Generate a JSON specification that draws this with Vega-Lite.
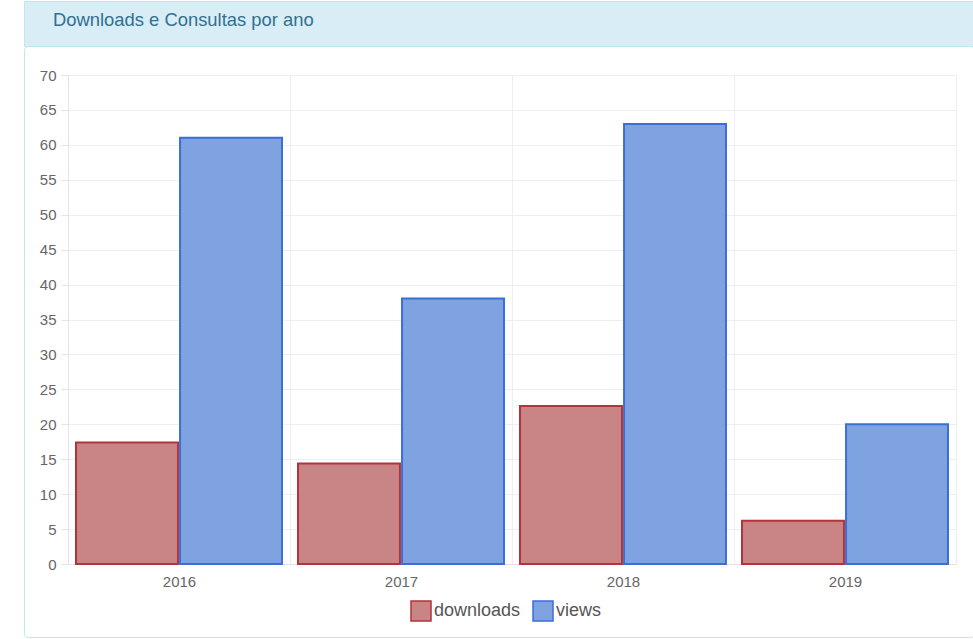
{
  "$schema": "https://vega.github.io/schema/vega-lite/v6.json",
  "background": "white",
  "padding": {"left": 23, "top": 0, "right": 0, "bottom": 0},
  "autosize": {"type": "pad"},
  "columns": 1,
  "align": "none",
  "bounds": "flush",
  "spacing": 0,
  "config": {
    "font": "Liberation Sans",
    "view": {"stroke": null}
  },
  "concat": [
    {
      "width": 950,
      "height": 45,
      "view": {"fill": "#d9edf7", "stroke": "#bce8f1", "strokeWidth": 1},
      "data": {"values": []},
      "mark": "point",
      "title": {
        "text": "Downloads e Consultas por ano",
        "anchor": "start",
        "frame": "group",
        "orient": "top",
        "offset": -43,
        "dx": 29,
        "baseline": "alphabetic",
        "fontSize": 18.4,
        "fontWeight": "normal",
        "font": "Liberation Sans",
        "color": "#31708f"
      }
    },
    {
      "width": 950,
      "height": 591,
      "view": {"fill": "white", "stroke": "#bce8f1", "strokeWidth": 1, "cornerRadius": 4},
      "data": {
        "values": [
          {"year": "2016", "series": "downloads", "value": 17.4},
          {"year": "2016", "series": "views", "value": 61},
          {"year": "2017", "series": "downloads", "value": 14.4},
          {"year": "2017", "series": "views", "value": 38},
          {"year": "2018", "series": "downloads", "value": 22.6},
          {"year": "2018", "series": "views", "value": 63},
          {"year": "2019", "series": "downloads", "value": 6.2},
          {"year": "2019", "series": "views", "value": 20}
        ]
      },
      "mark": {"type": "bar", "strokeWidth": 2, "fillOpacity": 1},
      "encoding": {
        "x": {
          "field": "year",
          "type": "nominal",
          "scale": {"paddingInner": 0, "paddingOuter": 0, "range": [44, 932]},
          "axis": {
            "title": null,
            "labelAngle": 0,
            "offset": -73,
            "tickBand": "extent",
            "grid": false,
            "domainColor": "#e3e3e3",
            "tickColor": "#eeeeee",
            "tickSize": -489,
            "labelPadding": 499,
            "labelFontSize": 15,
            "labelColor": "#666666",
            "labelFont": "Liberation Sans"
          }
        },
        "xOffset": {
          "field": "series",
          "type": "nominal",
          "scale": {"paddingInner": 0.02, "paddingOuter": 0.077}
        },
        "y": {
          "field": "value",
          "type": "quantitative",
          "scale": {"domain": [0, 70], "nice": false, "range": [518, 29]},
          "axis": {
            "title": null,
            "offset": -44,
            "values": [0, 5, 10, 15, 20, 25, 30, 35, 40, 45, 50, 55, 60, 65, 70],
            "grid": true,
            "gridColor": "#efefef",
            "domainColor": "#e3e3e3",
            "tickColor": "#e3e3e3",
            "tickSize": 7,
            "labelPadding": 5,
            "labelFontSize": 15,
            "labelColor": "#666666",
            "labelFont": "Liberation Sans"
          }
        },
        "fill": {
          "field": "series",
          "type": "nominal",
          "scale": {"domain": ["downloads", "views"], "range": ["#c98586", "#7fa2e1"]},
          "legend": {
            "orient": "none",
            "legendX": 386,
            "legendY": 599,
            "direction": "horizontal",
            "title": null,
            "symbolType": "square",
            "symbolSize": 400,
            "symbolStrokeColor": "#555555",
            "symbolStrokeWidth": 1.5,
            "symbolOpacity": 1,
            "labelFontSize": 18,
            "labelColor": "#555555",
            "labelFont": "Liberation Sans",
            "labelOffset": 2,
            "columnPadding": 9,
            "padding": 0
          }
        },
        "stroke": {
          "field": "series",
          "type": "nominal",
          "scale": {"domain": ["downloads", "views"], "range": ["#b2333a", "#3b6fd6"]},
          "legend": null
        }
      }
    }
  ]
}
